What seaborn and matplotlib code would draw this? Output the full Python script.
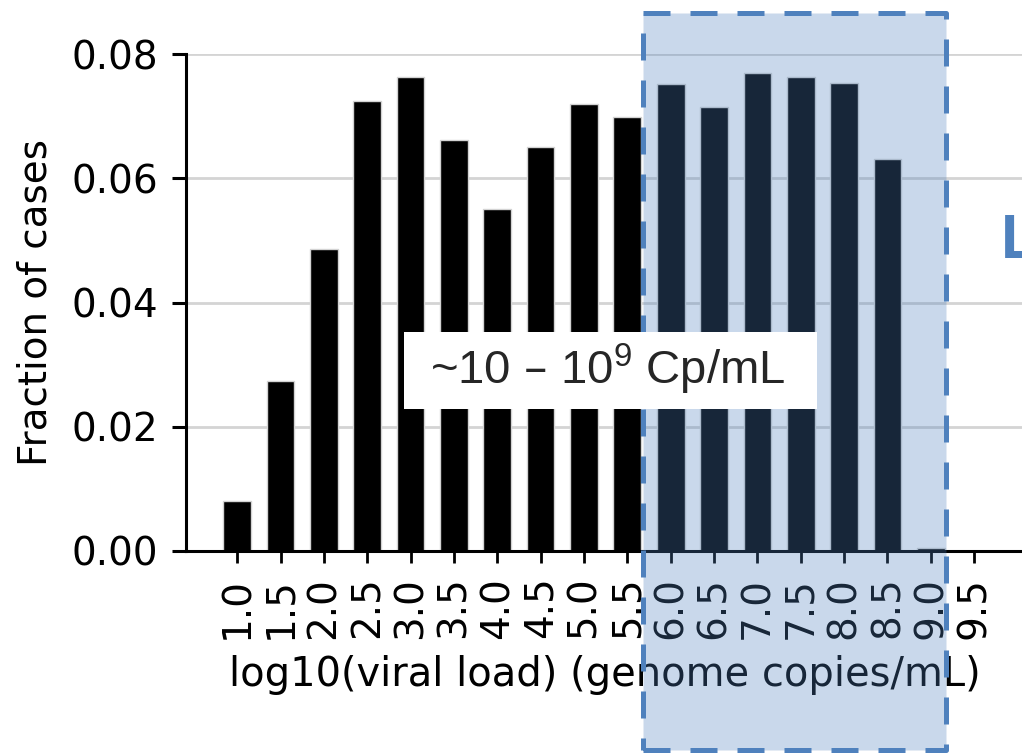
import matplotlib
matplotlib.use("Agg")
import matplotlib.pyplot as plt
import seaborn as sns
from matplotlib.patches import Rectangle

# binned log10 viral load and fraction of cases
bins = ["1.0", "1.5", "2.0", "2.5", "3.0", "3.5", "4.0", "4.5", "5.0",
        "5.5", "6.0", "6.5", "7.0", "7.5", "8.0", "8.5", "9.0", "9.5"]
fractions = [0.0080, 0.0274, 0.0486, 0.0725, 0.0763, 0.0661, 0.0550, 0.0651, 0.0719,
             0.0699, 0.0751, 0.0715, 0.0769, 0.0763, 0.0753, 0.0631, 0.0005, 0.0]
y_ticks = [0.00, 0.02, 0.04, 0.06, 0.08]

BLUE = "#4f81bd"

sns.set_theme(style="ticks")
plt.rcParams["font.family"] = ["DejaVu Sans"]
plt.rcParams["mathtext.default"] = "regular"

fig = plt.figure(figsize=(10.22, 7.56), dpi=100)
# axes runs right up to the figure edge
ax = fig.add_axes([186 / 1022, 205 / 756, 838 / 1022, 497 / 756])

sns.barplot(x=bins, y=fractions, color="black", saturation=1, width=0.64,
            edgecolor="lightgray", linewidth=1, ax=ax, zorder=2)

ax.set_xlim(-1.18, 18.15)
ax.set_ylim(0, 0.08)
ax.set_yticks(y_ticks)
ax.set_yticklabels([f"{v:.2f}" for v in y_ticks])
ax.yaxis.grid(True, color="#d4d4d4", linewidth=2, zorder=0)
ax.set_axisbelow(True)

sns.despine(ax=ax)
for side in ["left", "bottom"]:
    ax.spines[side].set_linewidth(2.2)
    ax.spines[side].set_color("black")
ax.tick_params(axis="y", length=10, width=2.2, pad=10, labelsize=28, colors="black")
ax.tick_params(axis="x", length=8.5, width=2.0, pad=10, labelsize=28, colors="black",
               labelrotation=90)

ax.set_xlabel("log10(viral load) (genome copies/mL)", fontsize=28.8, labelpad=12,
              color="black")
ax.set_ylabel("Fraction of cases", fontsize=28, labelpad=12, color="black")

# highlighted range
ax.add_patch(Rectangle((9.36, -0.032), 7.0, 0.1186, facecolor=(79 / 255, 129 / 255, 189 / 255, 0.3),
                       edgecolor=BLUE, linewidth=3.6, linestyle=(0, (5.4, 4)),
                       joinstyle="round", clip_on=False, zorder=4))

# label box
ax.add_patch(Rectangle((3.86, 0.0228), 9.51, 0.0125, facecolor="white", edgecolor="none",
                       clip_on=False, zorder=5))
ax.text(8.55, 0.0292, "~10 – 10$^9$ Cp/mL", family="Liberation Sans", fontsize=34,
        ha="center", va="center", zorder=6)

fig.text(1001 / 1022, 1 - 258 / 756, "L", family="Liberation Sans", fontweight="bold",
         fontsize=45, color=BLUE, ha="left", va="baseline")

fig.savefig("out.png", dpi=100)
